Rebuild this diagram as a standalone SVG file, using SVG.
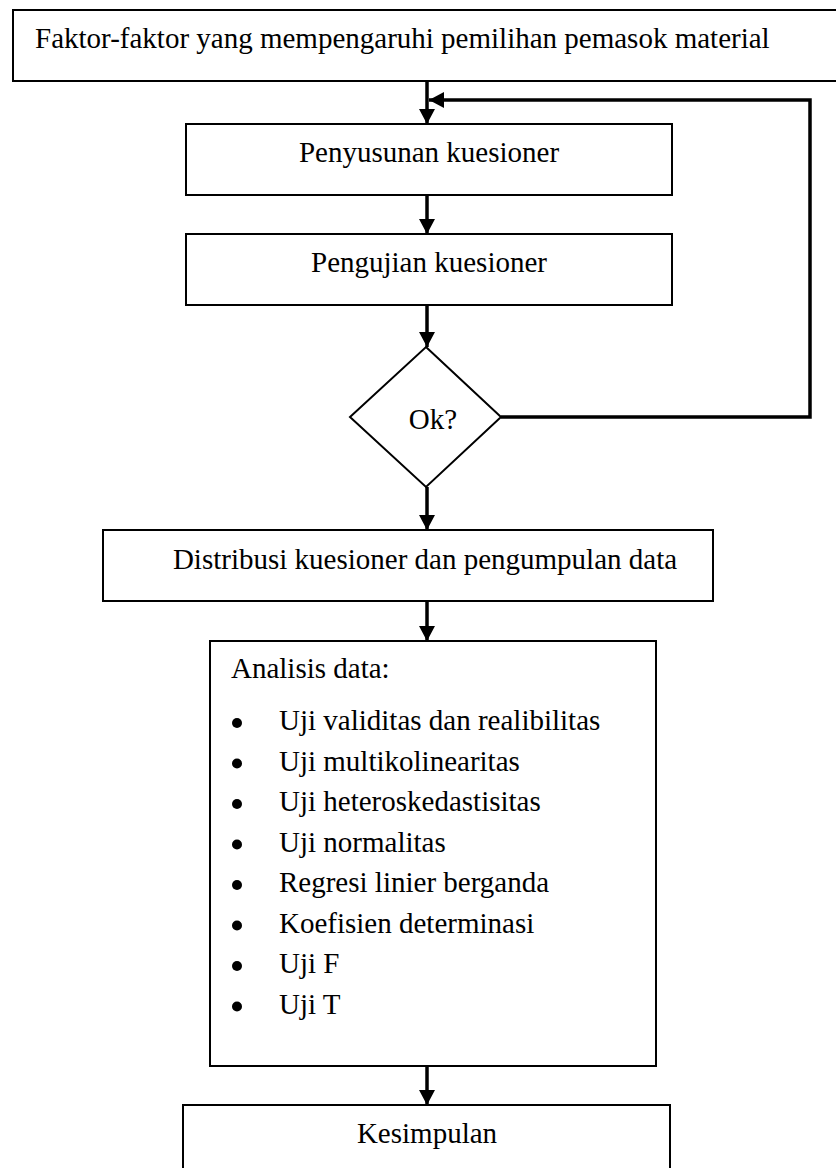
<svg xmlns="http://www.w3.org/2000/svg" width="836" height="1168" viewBox="0 0 836 1168">
<style>
.box{fill:#fff;stroke:#000;stroke-width:2}
.t{font-family:"Liberation Serif","Times New Roman",serif;font-size:29px;fill:#000}
.c{text-anchor:middle}
.conn{fill:none;stroke:#000;stroke-width:3.5}
</style>
<defs>
<marker id="ah" markerUnits="userSpaceOnUse" markerWidth="16" markerHeight="16" refX="15" refY="8" orient="auto">
<path d="M0,0 L15,8 L0,16 z" fill="#000"/>
</marker>
</defs>
<rect width="836" height="1168" fill="#fff"/>
<g id="connectors">
<line class="conn" x1="427" y1="81" x2="427" y2="124" marker-end="url(#ah)"/>
<line class="conn" x1="427" y1="195" x2="427" y2="234" marker-end="url(#ah)"/>
<line class="conn" x1="427" y1="305" x2="427" y2="347" marker-end="url(#ah)"/>
<polyline class="conn" points="501,417 810,417 810,100 429,100" marker-end="url(#ah)"/>
<line class="conn" x1="427" y1="487" x2="427" y2="530" marker-end="url(#ah)"/>
<line class="conn" x1="427" y1="601" x2="427" y2="641" marker-end="url(#ah)"/>
<line class="conn" x1="427" y1="1066" x2="427" y2="1105" marker-end="url(#ah)"/>
</g>
<g id="faktor">
<rect class="box" x="13" y="10" width="840" height="71"/>
<text class="t" x="35" y="48">Faktor-faktor yang mempengaruhi pemilihan pemasok material</text>
</g>
<g id="penyusunan">
<rect class="box" x="186" y="124" width="486" height="71"/>
<text class="t c" x="429" y="162">Penyusunan kuesioner</text>
</g>
<g id="pengujian">
<rect class="box" x="186" y="234" width="486" height="71"/>
<text class="t c" x="429" y="272">Pengujian kuesioner</text>
</g>
<g id="ok">
<polygon class="box" points="426,347 501,417 426,487 350,417"/>
<text class="t c" x="433" y="429">Ok?</text>
</g>
<g id="distribusi">
<rect class="box" x="103" y="530" width="610" height="71"/>
<text class="t c" x="425" y="569">Distribusi kuesioner dan pengumpulan data</text>
</g>
<g id="analisis">
<rect class="box" x="210" y="641" width="446" height="425"/>
<text class="t" x="231" y="678">Analisis data:</text>
<g fill="#000">
<circle cx="237" cy="723" r="5"/>
<circle cx="237" cy="763.5" r="5"/>
<circle cx="237" cy="804" r="5"/>
<circle cx="237" cy="844.5" r="5"/>
<circle cx="237" cy="885" r="5"/>
<circle cx="237" cy="925.5" r="5"/>
<circle cx="237" cy="966" r="5"/>
<circle cx="237" cy="1006.5" r="5"/>
</g>
<text class="t" x="279" y="730">Uji validitas dan realibilitas</text>
<text class="t" x="279" y="770.5">Uji multikolinearitas</text>
<text class="t" x="279" y="811">Uji heteroskedastisitas</text>
<text class="t" x="279" y="851.5">Uji normalitas</text>
<text class="t" x="279" y="892">Regresi linier berganda</text>
<text class="t" x="279" y="932.5">Koefisien determinasi</text>
<text class="t" x="279" y="973">Uji F</text>
<text class="t" x="279" y="1013.5">Uji T</text>
</g>
<g id="kesimpulan">
<rect class="box" x="183" y="1105" width="487" height="80"/>
<text class="t c" x="427" y="1143">Kesimpulan</text>
</g>
</svg>
